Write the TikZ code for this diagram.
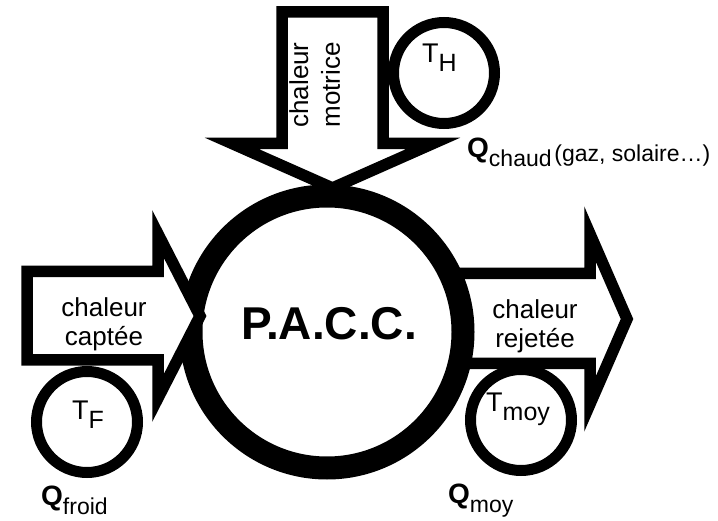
\documentclass[tikz,border=0pt]{standalone}
\usepackage{fontspec}
\setmainfont{Liberation Sans}
\usetikzlibrary{positioning,calc}

\newcommand{\Tlab}[1]{{\fontsize{27}{27}\selectfont T\raisebox{-9pt}{\fontsize{25}{25}\selectfont #1}}}
\newcommand{\Qlab}[1]{{\fontsize{28}{28}\selectfont\bfseries Q}\raisebox{-9pt}{\fontsize{23}{23}\selectfont #1}}

\begin{document}
\begin{tikzpicture}[x=1pt,y=-1pt,
   fleche/.style={draw=black,fill=white,line width=11.5pt,line join=miter},
   bulle/.style={circle,draw=black,fill=white,line width=11pt,minimum size=101pt,inner sep=0pt},
   txt/.style={align=center,inner sep=0pt,font=\fontsize{26}{29}\selectfont},
   lab/.style={anchor=base west,inner sep=0pt}]
\useasboundingbox (0,0) rectangle (718,521);

% chaleur rejetee, sous le cercle
\draw[fleche] (440,273.5) -- (590,273.5) -- (590,234) -- (627,319) -- (590,404) -- (590,363.5) -- (440,363.5) -- cycle;

% la machine
\path (327,332) node (pacc) [circle,draw=black,fill=white,line width=23pt,minimum size=272pt,inner sep=0pt] {};
\path (329,340) node (nom) [anchor=base,inner sep=0pt,font=\fontsize{46}{46}\selectfont\bfseries] {P.A.C.C.};

% chaleur captee et chaleur motrice
\draw[fleche] (27,271.5) -- (158,271.5) -- (158,234) -- (200,316) -- (158,398) -- (158,360) -- (27,360) -- cycle;
\draw[fleche] (282,12) -- (383,12) -- (383,143.5) -- (433,143.5) -- (332.5,188) -- (232,143.5) -- (282,143.5) -- cycle;

\path (104,324.3) node (capt) [txt] {chaleur\\captée}
      (535,325.8) node (rej)  [txt] {chaleur\\rejetée}
      (314.7,85)  node (mot)  [txt,rotate=90,font=\fontsize{26}{31.7}\selectfont] {chaleur\\motrice};

% les sources
\path (444,73)  node (cH) [bulle] {}
      (87,422)  node (cF) [bulle] {}
      (521,420) node (cM) [bulle] {};
\path (422,63)  node (tH) [lab] {\Tlab{H}}
      (72,420)  node (tF) [lab] {\Tlab{F}}
      (486,412) node (tM) [lab] {\Tlab{moy}};

\path (467,158) node (qC) [lab] {\Qlab{chaud} \raisebox{-4pt}{\fontsize{23}{23}\selectfont (gaz, solaire…)}}
      (41,505)  node (qF) [lab] {\Qlab{froid}}
      (448,503) node (qM) [lab] {\Qlab{moy}};
\end{tikzpicture}
\end{document}
